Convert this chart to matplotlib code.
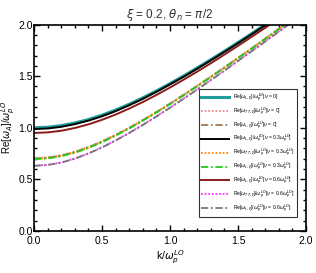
import numpy as np
import matplotlib
matplotlib.use("Agg")
import matplotlib.pyplot as plt
from matplotlib.ticker import MultipleLocator

# =============================================================================
# DATA
# =============================================================================
k = [0.0, 0.1, 0.2, 0.3, 0.4, 0.5, 0.6, 0.7, 0.8, 0.9, 1.0,
     1.1, 1.2, 1.3, 1.4, 1.5, 1.6, 1.7, 1.8, 1.9, 2.0]

wL_nu0 = [1.000, 1.005, 1.021, 1.046, 1.080, 1.122, 1.172, 1.228, 1.290, 1.357, 1.428,
          1.502, 1.580, 1.660, 1.742, 1.826, 1.912, 2.000, 2.089, 2.179, 2.270]
wT_nu0 = [0.705, 0.712, 0.734, 0.768, 0.814, 0.869, 0.932, 1.001, 1.076, 1.154, 1.236,
          1.321, 1.408, 1.497, 1.587, 1.679, 1.771, 1.865, 1.959, 2.054, 2.150]
wS_nu0 = [0.703, 0.710, 0.731, 0.766, 0.812, 0.867, 0.930, 0.999, 1.074, 1.152, 1.234,
          1.319, 1.406, 1.495, 1.585, 1.677, 1.769, 1.863, 1.957, 2.052, 2.148]
wL_nu3 = [0.988, 0.993, 1.009, 1.035, 1.069, 1.111, 1.161, 1.218, 1.280, 1.348, 1.420,
          1.494, 1.572, 1.653, 1.735, 1.819, 1.905, 1.993, 2.082, 2.172, 2.263]
wT_nu3 = [0.698, 0.705, 0.727, 0.761, 0.807, 0.863, 0.926, 0.995, 1.070, 1.149, 1.231,
          1.316, 1.403, 1.492, 1.583, 1.675, 1.767, 1.861, 1.956, 2.051, 2.147]
wS_nu3 = [0.695, 0.702, 0.724, 0.758, 0.804, 0.860, 0.923, 0.993, 1.068, 1.147, 1.229,
          1.314, 1.401, 1.490, 1.581, 1.673, 1.766, 1.860, 1.955, 2.050, 2.146]
wL_nu6 = [0.950, 0.955, 0.971, 0.998, 1.033, 1.077, 1.128, 1.186, 1.249, 1.318, 1.390,
          1.466, 1.544, 1.625, 1.709, 1.794, 1.881, 1.969, 2.058, 2.149, 2.240]
wT_nu6 = [0.633, 0.641, 0.664, 0.702, 0.752, 0.811, 0.878, 0.951, 1.029, 1.111, 1.196,
          1.283, 1.372, 1.463, 1.555, 1.649, 1.743, 1.838, 1.933, 2.029, 2.126]
wS_nu6 = [0.631, 0.639, 0.662, 0.700, 0.750, 0.809, 0.876, 0.949, 1.027, 1.109, 1.194,
          1.281, 1.370, 1.461, 1.553, 1.647, 1.741, 1.836, 1.931, 2.027, 2.124]

labels = [
    r"Re[$\omega_{L,\xi}$]/$\omega_p^{LO}$[$\nu$ = 0]",
    r"Re[$\omega_{TT,\xi}$]/$\omega_p^{LO}$[$\nu$ = 0]",
    r"Re[$\omega_{t,\xi}$]/$\omega_p^{LO}$[$\nu$ = 0]",
    r"Re[$\omega_{L,\xi}$]/$\omega_p^{LO}$[$\nu$ = 0.3$\omega_p^{LO}$]",
    r"Re[$\omega_{TT,\xi}$]/$\omega_p^{LO}$[$\nu$ = 0.3$\omega_p^{LO}$]",
    r"Re[$\omega_{t,\xi}$]/$\omega_p^{LO}$[$\nu$ = 0.3$\omega_p^{LO}$]",
    r"Re[$\omega_{L,\xi}$]/$\omega_p^{LO}$[$\nu$ = 0.6$\omega_p^{LO}$]",
    r"Re[$\omega_{TT,\xi}$]/$\omega_p^{LO}$[$\nu$ = 0.6$\omega_p^{LO}$]",
    r"Re[$\omega_{t,\xi}$]/$\omega_p^{LO}$[$\nu$ = 0.6$\omega_p^{LO}$]",
]

series = [wL_nu0, wT_nu0, wS_nu0, wL_nu3, wT_nu3, wS_nu3, wL_nu6, wT_nu6, wS_nu6]
colors = ["#1f9e9a", "#f08a8a", "#a07a55", "#000000", "#ff8c00",
          "#22cc22", "#8b1a1a", "#ff33ff", "#777777"]
styles = ["-", (0, (1, 1)), (0, (4, 1.5, 1, 1.5)), "-", (0, (1, 1)),
          (0, (4, 1.5, 1, 1.5)), "-", (0, (1, 1)), (0, (4, 1.5, 1, 1.5))]
widths = [2.2, 1.3, 1.3, 1.4, 1.3, 1.3, 1.4, 1.3, 1.3]

# =============================================================================
# PLOT
# =============================================================================
plt.rcParams["font.family"] = ["Liberation Sans", "DejaVu Sans"]
plt.rcParams["mathtext.fontset"] = "dejavusans"

fig = plt.figure(figsize=(3.16, 2.73), dpi=100)
ax = fig.add_axes([0.1076, 0.154, 0.8608, 0.756])

for y, c, ls, lw, lab in zip(series, colors, styles, widths, labels):
    ax.plot(k, y, color=c, ls=ls, lw=lw, label=lab)

ax.set_xlim(0, 2)
ax.set_ylim(0, 2)
ax.xaxis.set_major_locator(MultipleLocator(0.5))
ax.yaxis.set_major_locator(MultipleLocator(0.5))
ax.xaxis.set_minor_locator(MultipleLocator(0.1))
ax.yaxis.set_minor_locator(MultipleLocator(0.1))
ax.tick_params(which="both", direction="in", top=True, right=True,
               labelsize=7.5, width=1)
ax.tick_params(axis="x", pad=3.5)
ax.tick_params(axis="y", pad=1.0)
ax.tick_params(which="major", length=4)
ax.tick_params(which="minor", length=2)
for s in ax.spines.values():
    s.set_linewidth(1.2)

ax.set_xlabel(r"k/$\omega_p^{LO}$", fontsize=7.5, labelpad=2)
ax.set_ylabel(r"Re[$\omega_A$]/$\omega_p^{LO}$", fontsize=7, labelpad=0)
ax.yaxis.set_label_coords(-0.062, 0.5)
ax.set_title(r"$\xi$ = 0.2, $\theta_n$ = $\pi$/2", fontsize=8.5, color="#333333", pad=5)

leg = ax.legend(loc="lower right", bbox_to_anchor=(0.975, 0.055), fontsize=3.6,
                frameon=True, fancybox=False, edgecolor="black", handlelength=5.5,
                labelspacing=0.35, borderpad=0.5, handletextpad=0.8)
leg.get_frame().set_linewidth(0.8)

fig.savefig("out.png", dpi=100)
